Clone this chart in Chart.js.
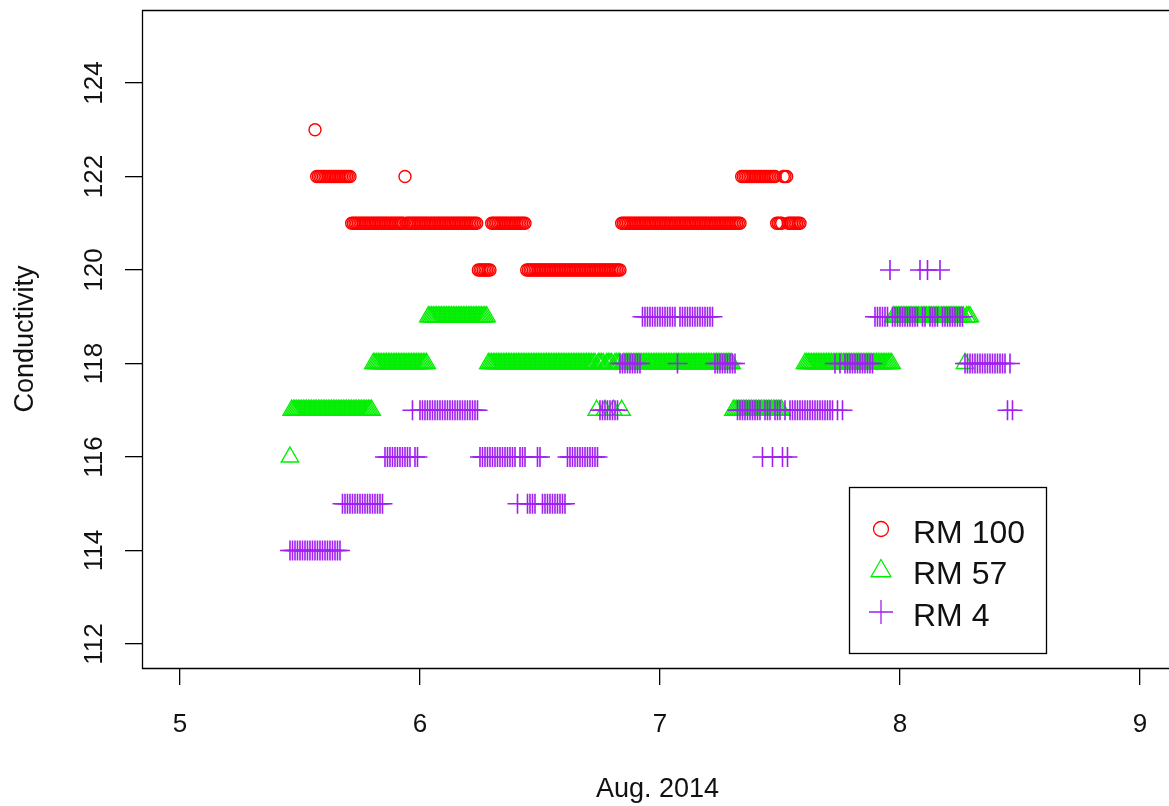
<!DOCTYPE html>
<html>
<head>
<meta charset="utf-8">
<script src="https://cdn.jsdelivr.net/npm/chart.js@4.4.1/dist/chart.umd.min.js"></script>
<style>
  html, body { margin: 0; padding: 0; background: #fff; }
  #wrap { width: 1169px; height: 806px; }
</style>
</head>
<body>
<div id="wrap"><canvas id="myChart" width="1169" height="806"></canvas></div>
<script>
// time in days of August 2014; RM 100 and RM 57 log every 10 min, RM 4 every 15 min
const rm100Start = 5.5625, rm100Step = 1 / 144;
const rm57Start = 5.4583, rm57Step = 1 / 144;
const rm4Start = 5.4583, rm4Step = 1 / 96;

const rm100Values = [
  123, 122, 122, 122, 122, 122, 122, 122, 122, 122,
  122, 122, 122, 122, 122, 122, 122, 122, 122, 122,
  122, 122, 121, 121, 121, 121, 121, 121, 121, 121,
  121, 121, 121, 121, 121, 121, 121, 121, 121, 121,
  121, 121, 121, 121, 121, 121, 121, 121, 121, 121,
  121, 121, 121, 121, 122, 121, 121, 121, 121, 121,
  121, 121, 121, 121, 121, 121, 121, 121, 121, 121,
  121, 121, 121, 121, 121, 121, 121, 121, 121, 121,
  121, 121, 121, 121, 121, 121, 121, 121, 121, 121,
  121, 121, 121, 121, 121, 121, 121, 121, 120, 120,
  120, 120, 120, 120, 120, 120, 121, 121, 121, 121,
  121, 121, 121, 121, 121, 121, 121, 121, 121, 121,
  121, 121, 121, 121, 121, 121, 121, 120, 120, 120,
  120, 120, 120, 120, 120, 120, 120, 120, 120, 120,
  120, 120, 120, 120, 120, 120, 120, 120, 120, 120,
  120, 120, 120, 120, 120, 120, 120, 120, 120, 120,
  120, 120, 120, 120, 120, 120, 120, 120, 120, 120,
  120, 120, 120, 120, 120, 120, 120, 120, 120, 120,
  120, 120, 120, 120, 121, 121, 121, 121, 121, 121,
  121, 121, 121, 121, 121, 121, 121, 121, 121, 121,
  121, 121, 121, 121, 121, 121, 121, 121, 121, 121,
  121, 121, 121, 121, 121, 121, 121, 121, 121, 121,
  121, 121, 121, 121, 121, 121, 121, 121, 121, 121,
  121, 121, 121, 121, 121, 121, 121, 121, 121, 121,
  121, 121, 121, 121, 121, 121, 121, 121, 121, 121,
  121, 121, 121, 121, 121, 121, 122, 122, 122, 122,
  122, 122, 122, 122, 122, 122, 122, 122, 122, 122,
  122, 122, 122, 122, 122, 122, 122, 121, 121, 121,
  121, 122, 122, 122, 121, 121, 121, 121, 121, 121,
  121, 121
];

const rm57Values = [
  116, 117, 117, 117, 117, 117, 117, 117, 117, 117,
  117, 117, 117, 117, 117, 117, 117, 117, 117, 117,
  117, 117, 117, 117, 117, 117, 117, 117, 117, 117,
  117, 117, 117, 117, 117, 117, 117, 117, 117, 117,
  117, 117, 117, 117, 117, 117, 117, 117, 117, 117,
  118, 118, 118, 118, 118, 118, 118, 118, 118, 118,
  118, 118, 118, 118, 118, 118, 118, 118, 118, 118,
  118, 118, 118, 118, 118, 118, 118, 118, 118, 118,
  118, 118, 118, 119, 119, 119, 119, 119, 119, 119,
  119, 119, 119, 119, 119, 119, 119, 119, 119, 119,
  119, 119, 119, 119, 119, 119, 119, 119, 119, 119,
  119, 119, 119, 119, 119, 119, 119, 119, 119, 118,
  118, 118, 118, 118, 118, 118, 118, 118, 118, 118,
  118, 118, 118, 118, 118, 118, 118, 118, 118, 118,
  118, 118, 118, 118, 118, 118, 118, 118, 118, 118,
  118, 118, 118, 118, 118, 118, 118, 118, 118, 118,
  118, 118, 118, 118, 118, 118, 118, 118, 118, 118,
  118, 118, 118, 118, 118, 118, 118, 118, 118, 118,
  118, 118, 118, 118, 117, 118, 118, 118, 118, 117,
  118, 118, 118, 118, 117, 118, 118, 118, 118, 117,
  118, 118, 118, 118, 118, 118, 118, 118, 118, 118,
  118, 118, 118, 118, 118, 118, 118, 118, 118, 118,
  118, 118, 118, 118, 118, 118, 118, 118, 118, 118,
  118, 118, 118, 118, 118, 118, 118, 118, 118, 118,
  118, 118, 118, 118, 118, 118, 118, 118, 118, 118,
  118, 118, 118, 118, 118, 118, 118, 118, 118, 118,
  118, 118, 118, 118, 118, 118, 117, 117, 117, 117,
  117, 117, 117, 117, 117, 117, 117, 117, 117, 117,
  117, 117, 117, 117, 117, 117, 117, 117, 117, 117,
  117, 117, 117, 117, 117, 117, null, null, null, null,
  null, null, null, null, null, null, null, null, null, 118,
  118, 118, 118, 118, 118, 118, 118, 118, 118, 118,
  118, 118, 118, 118, 118, 118, 118, 118, 118, 118,
  118, 118, 118, 118, 118, 118, 118, 118, 118, 118,
  118, 118, 118, 118, 118, 118, 118, 118, 118, 118,
  118, 118, 118, 118, 118, 118, 118, 118, 118, 118,
  118, 118, 119, 119, 119, 119, 119, 119, 119, 119,
  119, 119, 119, 119, 119, 119, 119, 119, 119, 119,
  119, 119, 119, 119, 119, 119, 119, 119, 119, 119,
  119, 119, 119, 119, 119, 119, 119, 119, 119, 119,
  119, 119, 119, 119, 119, 118, 119, 119, 119
];

const rm4Values = [
  114, 114, 114, 114, 114, 114, 114, 114, 114, 114,
  114, 114, 114, 114, 114, 114, 114, 114, 114, 114,
  114, 115, 115, 115, 115, 115, 115, 115, 115, 115,
  115, 115, 115, 115, 115, 115, 115, 115, 116, 116,
  116, 116, 116, 116, 116, 116, 116, 116, 116, 117,
  116, 116, 117, 117, 117, 117, 117, 117, 117, 117,
  117, 117, 117, 117, 117, 117, 117, 117, 117, 117,
  117, 117, 117, 117, 117, 117, 116, 116, 116, 116,
  116, 116, 116, 116, 116, 116, 116, 116, 116, 116,
  116, 115, 116, 116, 116, 115, 115, 115, 115, 116,
  116, 115, 115, 115, 115, 115, 115, 115, 115, 115,
  115, 116, 116, 116, 116, 116, 116, 116, 116, 116,
  116, 116, 116, 116, 117, 117, 117, 117, 117, 117,
  117, 117, 118, 118, 118, 118, 118, 118, 118, 118,
  118, 119, 119, 119, 119, 119, 119, 119, 119, 119,
  119, 119, 119, 119, 119, 118, 119, 119, 119, 119,
  119, 119, 119, 119, 119, 119, 119, 119, 119, 119,
  118, 118, 118, 118, 118, 118, 118, 118, 118, 117,
  117, 117, 117, 117, 117, 117, 117, 117, 117, 116,
  117, 117, 117, 116, 117, 117, 117, 116, 117, 116,
  117, 117, 117, 117, 117, 117, 117, 117, 117, 117,
  117, 117, 117, 117, 117, 117, 117, 117, 118, 117,
  118, 117, 118, 118, 118, 118, 118, 118, 118, 118,
  118, 118, 118, 118, 119, 119, 119, 119, 119, 119,
  120, 119, 119, 119, 119, 119, 119, 119, 119, 119,
  119, 119, 120, 119, 119, 120, 119, 119, 119, 119,
  120, 119, 119, 119, 119, 119, 119, 119, 119, 119,
  118, 118, 118, 118, 118, 118, 118, 118, 118, 118,
  118, 118, 118, 118, 118, 118, 118, 117, 118, 117
];

const seriesNames = ['RM 100', 'RM 57', 'RM 4'];
const seriesColors = ['#ff0000', '#00ee00', '#a020f0'];
const xTicks = [5, 6, 7, 8, 9];
const yTicks = [112, 114, 116, 118, 120, 122, 124];

const FONT = '"Liberation Sans", Arial, sans-serif';

function toPoints(start, step, values) {
  const pts = [];
  values.forEach((v, i) => {
    if (v !== null) pts.push({ x: start + i * step, y: v });
  });
  return pts;
}

function pointSet(label, color, style, radius, width, data, order) {
  return {
    label: label,
    data: data,
    showLine: false,
    pointStyle: style,
    pointRadius: radius,
    pointHoverRadius: radius,
    pointBorderWidth: width,
    pointBorderColor: color,
    pointBackgroundColor: 'rgba(0,0,0,0)',
    borderColor: color,
    order: order
  };
}

// R-like frame, axis texts and boxed legend
const rFrame = {
  id: 'rFrame',
  afterDraw(chart) {
    const { ctx, chartArea: a } = chart;
    const x = chart.scales.x, y = chart.scales.y;
    ctx.save();
    ctx.strokeStyle = '#000';
    ctx.lineWidth = 1.3;
    ctx.beginPath();
    ctx.moveTo(chart.width, a.top + 0.5);
    ctx.lineTo(a.left + 0.5, a.top + 0.5);
    ctx.lineTo(a.left + 0.5, a.bottom + 0.5);
    ctx.lineTo(chart.width, a.bottom + 0.5);
    ctx.stroke();

    ctx.fillStyle = '#111';
    ctx.textAlign = 'center';
    ctx.textBaseline = 'alphabetic';
    ctx.font = '26px ' + FONT;
    xTicks.forEach(v => ctx.fillText(String(v), x.getPixelForValue(v), 732));
    yTicks.forEach(v => {
      ctx.save();
      ctx.translate(102, y.getPixelForValue(v));
      ctx.rotate(-Math.PI / 2);
      ctx.fillText(String(v), 0, 0);
      ctx.restore();
    });

    ctx.font = '27px ' + FONT;
    ctx.fillText('Aug. 2014', (a.left + a.right) / 2 + 2, 797);
    ctx.save();
    ctx.translate(33, (a.top + a.bottom) / 2);
    ctx.rotate(-Math.PI / 2);
    ctx.fillText('Conductivity', 0, 0);
    ctx.restore();

    // legend
    ctx.strokeStyle = '#000';
    ctx.lineWidth = 1.3;
    ctx.strokeRect(849.5, 487.5, 197, 166);
    const styles = ['circle', 'triangle', 'cross'];
    const radii = [7.5, 11.5, 12];
    const symY = [529, 571, 612];
    const textY = [543, 584, 626];
    ctx.font = '32px ' + FONT;
    ctx.textAlign = 'left';
    for (let i = 0; i < 3; i++) {
      ctx.strokeStyle = seriesColors[i];
      ctx.fillStyle = 'rgba(0,0,0,0)';
      ctx.lineWidth = 1.3;
      Chart.helpers.drawPoint(ctx, { pointStyle: styles[i], radius: radii[i], borderWidth: 1.3, rotation: 0 }, 881, symY[i]);
      ctx.fillStyle = '#111';
      ctx.fillText(seriesNames[i], 913, textY[i]);
    }
    ctx.restore();
  }
};

const config = {
  type: 'scatter',
  data: {
    datasets: [
      pointSet(seriesNames[0], seriesColors[0], 'circle', 6, 1.4, toPoints(rm100Start, rm100Step, rm100Values), 2),
      pointSet(seriesNames[1], seriesColors[1], 'triangle', 10, 1.4, toPoints(rm57Start, rm57Step, rm57Values), 1),
      pointSet(seriesNames[2], seriesColors[2], 'cross', 10, 1.6, toPoints(rm4Start, rm4Step, rm4Values), 0)
    ]
  },
  options: {
    responsive: false,
    animation: false,
    devicePixelRatio: 1,
    layout: { autoPadding: false, padding: { top: 10, right: 0, bottom: 0, left: 0 } },
    plugins: {
      legend: { display: false },
      tooltip: { enabled: false }
    },
    scales: {
      x: {
        type: 'linear',
        min: 4.8417,
        max: 9.1208,
        afterBuildTicks: s => { s.ticks = xTicks.map(v => ({ value: v })); },
        afterFit: s => { s.height = 138; },
        ticks: { display: false },
        grid: { drawOnChartArea: false, drawTicks: true, tickLength: 17, color: '#000', lineWidth: 1.3 },
        border: { display: false }
      },
      y: {
        type: 'linear',
        min: 111.4866,
        max: 125.5615,
        afterBuildTicks: s => { s.ticks = yTicks.map(v => ({ value: v })); },
        afterFit: s => { s.width = 142; },
        ticks: { display: false },
        grid: { drawOnChartArea: false, drawTicks: true, tickLength: 17, color: '#000', lineWidth: 1.3 },
        border: { display: false }
      }
    }
  },
  plugins: [rFrame]
};

new Chart(document.getElementById('myChart'), config);
</script>
</body>
</html>
